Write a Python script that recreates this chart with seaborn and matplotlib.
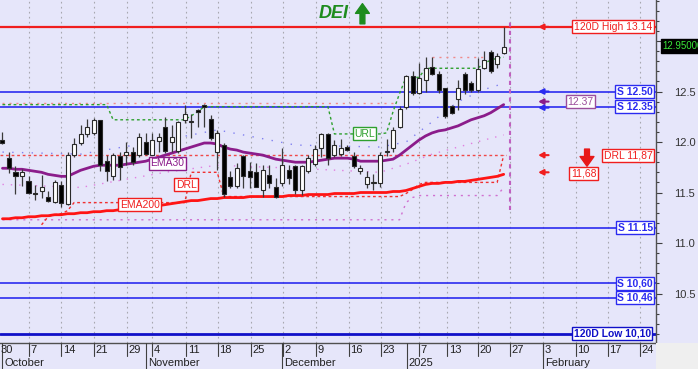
import matplotlib
matplotlib.use("Agg")
import matplotlib.pyplot as plt
from matplotlib.ticker import MultipleLocator, FuncFormatter
from matplotlib.patches import Rectangle
import numpy as np
import pandas as pd
import seaborn as sns

# daily candles, oldest first
opens = [12.02, 11.84, 11.70, 11.66, 11.61, 11.50, 11.51, 11.46, 11.41, 11.57,
         11.39, 11.87, 11.99, 12.08, 12.09, 12.22, 11.81, 11.66, 11.86, 11.87,
         11.90, 11.87, 12.00, 11.87, 12.01, 12.15, 12.00, 11.91, 12.22, 12.20,
         12.32, 12.37, 12.23, 11.90, 11.97, 11.65, 11.56, 11.86, 11.71, 11.70,
         11.52, 11.67, 11.55, 11.59, 11.72, 11.76, 11.52, 11.71, 11.78, 11.94,
         12.08, 11.87, 11.88, 11.95, 11.86, 11.71, 11.58, 11.59, 11.59, 11.90,
         11.94, 12.15, 12.35, 12.65, 12.49, 12.61, 12.74, 12.67, 12.53, 12.36,
         12.43, 12.67, 12.58, 12.51, 12.73, 12.89, 12.77, 12.88]
highs = [12.10, 11.90, 11.76, 11.73, 11.66, 11.57, 11.67, 11.51, 11.62, 11.61,
         11.90, 12.04, 12.17, 12.23, 12.24, 12.22, 11.87, 11.89, 11.90, 12.00,
         11.95, 12.09, 12.09, 12.09, 12.09, 12.25, 12.17, 12.21, 12.37, 12.28,
         12.33, 12.38, 12.27, 12.12, 11.99, 11.71, 11.79, 11.87, 11.80, 11.79,
         11.77, 11.77, 11.64, 11.94, 11.77, 11.77, 11.77, 11.87, 11.97, 12.09,
         12.09, 12.02, 12.03, 11.97, 11.90, 11.77, 11.71, 11.68, 11.90, 12.03,
         12.15, 12.36, 12.66, 12.70, 12.78, 12.84, 12.84, 12.70, 12.53, 12.37,
         12.61, 12.69, 12.60, 12.83, 12.90, 12.91, 12.88, 13.14]
lows = [11.98, 11.69, 11.49, 11.56, 11.49, 11.43, 11.45, 11.41, 11.40, 11.36,
        11.38, 11.85, 11.97, 12.05, 12.07, 11.71, 11.61, 11.62, 11.62, 11.77,
        11.77, 11.85, 11.87, 11.87, 11.90, 11.89, 11.90, 11.89, 12.19, 12.04,
        12.15, 12.15, 12.02, 11.72, 11.46, 11.54, 11.54, 11.54, 11.54, 11.55,
        11.46, 11.54, 11.45, 11.56, 11.58, 11.49, 11.48, 11.69, 11.76, 11.85,
        11.77, 11.85, 11.86, 11.91, 11.74, 11.68, 11.54, 11.52, 11.55, 11.86,
        11.90, 12.14, 12.33, 12.47, 12.48, 12.50, 12.66, 12.49, 12.24, 12.28,
        12.32, 12.48, 12.50, 12.50, 12.72, 12.68, 12.73, 12.87]
closes = [11.99, 11.74, 11.66, 11.70, 11.50, 11.49, 11.55, 11.42, 11.60, 11.40,
          11.87, 11.98, 12.08, 12.15, 12.22, 11.77, 11.71, 11.87, 11.75, 11.90,
          11.80, 12.05, 11.88, 12.02, 12.05, 11.91, 12.05, 12.20, 12.28, 12.21,
          12.30, 12.35, 12.04, 12.09, 11.49, 11.56, 11.74, 11.66, 11.65, 11.55,
          11.72, 11.59, 11.46, 11.77, 11.64, 11.52, 11.76, 11.84, 11.93, 12.08,
          11.84, 11.97, 11.94, 11.92, 11.76, 11.74, 11.65, 11.60, 11.87, 11.91,
          12.12, 12.33, 12.65, 12.49, 12.63, 12.73, 12.67, 12.51, 12.26, 12.29,
          12.53, 12.51, 12.51, 12.72, 12.81, 12.70, 12.85, 12.94]

ema30 = [11.74, 11.74, 11.73, 11.73, 11.72, 11.71, 11.70, 11.68, 11.67, 11.66,
         11.66, 11.69, 11.72, 11.74, 11.76, 11.77, 11.77, 11.77, 11.77, 11.78,
         11.79, 11.80, 11.81, 11.83, 11.85, 11.87, 11.89, 11.91, 11.93, 11.95,
         11.97, 11.99, 11.99, 11.98, 11.95, 11.93, 11.92, 11.90, 11.89, 11.88,
         11.87, 11.85, 11.83, 11.82, 11.81, 11.80, 11.80, 11.80, 11.81, 11.82,
         11.83, 11.84, 11.84, 11.84, 11.83, 11.81, 11.81, 11.81, 11.81, 11.82,
         11.83, 11.87, 11.92, 11.97, 12.02, 12.06, 12.09, 12.11, 12.12, 12.14,
         12.16, 12.19, 12.22, 12.24, 12.26, 12.29, 12.33, 12.37]
ema200 = [11.24, 11.24, 11.25, 11.25, 11.26, 11.26, 11.27, 11.27, 11.28, 11.28,
          11.29, 11.29, 11.30, 11.30, 11.31, 11.31, 11.32, 11.32, 11.33, 11.33,
          11.33, 11.34, 11.35, 11.36, 11.37, 11.38, 11.39, 11.40, 11.41, 11.42,
          11.42, 11.43, 11.44, 11.44, 11.45, 11.45, 11.45, 11.45, 11.46, 11.46,
          11.46, 11.46, 11.46, 11.46, 11.47, 11.47, 11.47, 11.48, 11.48, 11.48,
          11.48, 11.49, 11.49, 11.49, 11.49, 11.50, 11.50, 11.50, 11.50, 11.50,
          11.51, 11.51, 11.52, 11.54, 11.56, 11.58, 11.59, 11.59, 11.60, 11.60,
          11.61, 11.61, 11.62, 11.63, 11.64, 11.65, 11.66, 11.68]
url_line = [12.37] * 17 + [12.22] * 12 + [12.26, 12.30] + [12.35] * 20 + \
           [12.08] * 8 + [12.09, 12.30, 12.48, 12.64, 12.64, 12.64] + [12.73] * 9 + \
           [12.78, 12.81, 12.83, 12.84]
drl_line = [np.nan] * 6 + [11.18, 11.26, 11.28, 11.29, 11.32] + [11.40] * 18 + \
           [11.70] * 5 + [11.46] * 28 + [11.49, 11.53, 11.58] + [11.60] * 12 + [11.87]
res_dots = [12.39] * 61
res_dots_hi = [12.84] * 9          # days 66..74
sup_dots = [11.23] * 62 + [11.40, 11.45] + [11.47] * 13 + [11.55]

band_days = [0, 12, 25, 33, 45, 58, 62, 66, 70, 74, 77]
band_upper = [11.90, 11.88, 12.02, 12.12, 11.97, 11.95, 12.00, 12.20, 12.40, 12.52, 12.58]
band_lower = [11.58, 11.55, 11.70, 11.77, 11.74, 11.70, 11.78, 11.88, 11.95, 12.02, 12.07]

day_ticks = [-0.6, 4.1, 9.0, 14.1, 19.1, 23.0, 28.2, 33.1, 38.2, 43.1, 48.2,
             53.2, 58.1, 64.0, 68.3, 73.0, 78.0, 83.0, 88.1, 93.0, 97.9]
day_labels = ["30", "7", "14", "21", "29", "4", "11", "18", "25", "2", "9",
              "16", "23", "7", "13", "20", "27", "3", "10", "17", "24"]
month_pos = [0.0, 22.0, 43.0, 62.1, 83.0]
month_labels = ["October", "November", "December", "2025", "February"]

support_levels = [12.50, 12.35, 11.15, 10.60, 10.46]
support_labels = ["S 12.50", "S 12.35", "S 11.15", "S 10,60", "S 10,46"]
high_120 = 13.14
low_120 = 10.10
drl_level = 11.87
last_close = 12.95

df = pd.DataFrame({"day": np.arange(len(closes)), "open": opens, "high": highs,
                   "low": lows, "close": closes, "ema30": ema30, "ema200": ema200,
                   "url": url_line, "drl": drl_line})

sns.set_style("white")
plt.rcParams["font.family"] = ["Liberation Sans", "DejaVu Sans"]

BG = "#E6E6FA"
BLUE = "#2B2BF0"
RED = "#F01E1E"
PURPLE = "#8B1C8B"
GREEN = "#1E8C1E"

fig = plt.figure(figsize=(6.98, 3.69), dpi=100, facecolor=BG)
ax = fig.add_axes([0, 26 / 369, 656 / 698, 343 / 369], facecolor=BG)
strip = fig.add_axes([0, 0, 656 / 698, 26 / 369], facecolor=BG)
fig.patches.append(Rectangle((656 / 698, 0), 42 / 698, 26 / 369, transform=fig.transFigure,
                             fc="#EFEFEF", ec="none"))

xlim = (-0.38, 100.4)
ax.set_xlim(*xlim)
ax.set_ylim(10.01, 13.406)

# grid
for t in day_ticks:
    ax.axvline(t, color="#A8A8B0", lw=0.8, ls=(0, (1.5, 3)), zorder=0.5)

# horizontal levels
ax.axhline(high_120, color=RED, lw=1.6, zorder=1)
for lv in support_levels:
    ax.axhline(lv, color=BLUE, lw=1.2, zorder=1)
ax.axhline(low_120, color="#1010C8", lw=2.0, zorder=1)
ax.hlines(drl_level, xlim[0], 77.3, color="#F04848", lw=1.0, ls=(0, (2, 2)), zorder=1)

# dotted reference lines
ax.plot(np.arange(61), res_dots, color="#F08A8A", lw=1.0, ls=(0, (1.5, 3.5)), zorder=1)
ax.plot(np.arange(66, 75), res_dots_hi, color="#F08A8A", lw=1.0, ls=(0, (1.5, 3.5)), zorder=1)
ax.plot(np.arange(78), sup_dots, color="#D070D0", lw=1.0, ls=(0, (1.5, 3.5)), zorder=1)
ax.plot(band_days, band_upper, color="#8080F0", lw=1.0, ls=(0, (1, 6)), zorder=1)
ax.plot(band_days, band_lower, color="#E080E0", lw=1.0, ls=(0, (1, 5)), zorder=1)

# URL / DRL step lines
ax.plot(df["day"], df["url"], color="#2EA02E", lw=1.0, ls=(0, (2, 2)), zorder=2)
ax.plot(df["day"], df["drl"], color="#F03030", lw=1.0, ls=(0, (2, 2)), zorder=2)

# moving averages
sns.lineplot(data=df, x="day", y="ema200", ax=ax, color="#FF1414", lw=2.0, zorder=2.5)
sns.lineplot(data=df, x="day", y="ema30", ax=ax, color=PURPLE, lw=2.0, zorder=2.5)

# candles
up = df["close"] >= df["open"]
ax.vlines(df["day"], df["low"], df["high"], color="#3A3A3A", lw=0.9, zorder=3)
body_lo = np.minimum(df["open"], df["close"])
body_h = np.maximum(np.abs(df["close"] - df["open"]), 0.008)
ax.bar(df["day"], body_h, bottom=body_lo, width=0.62,
       color=np.where(up, "white", "black"), edgecolor="#2A2A2A", lw=0.8, zorder=4)

# last bar marker
ax.vlines(78.0, 11.33, 13.22, color="#C060C0", lw=1.5, ls=(0, (2, 2)), zorder=2)

ax.set_xlabel("")
ax.set_ylabel("")
ax.set_xticks([])
ax.yaxis.tick_right()
ax.yaxis.set_major_locator(MultipleLocator(0.5))
ax.yaxis.set_minor_locator(MultipleLocator(0.1))
# 13.0 sits under the last-price tag
ax.yaxis.set_major_formatter(FuncFormatter(lambda v, p: "" if v > 12.9 else f"{v:.1f}"))
ax.tick_params(axis="y", which="major", length=4, width=0.8, color="#404040",
               labelsize=8, labelcolor="#333333", pad=9, right=True)
ax.tick_params(axis="y", which="minor", length=2, width=0.8, color="#404040", right=True)
for s in ["top", "left"]:
    ax.spines[s].set_visible(False)
for s in ["right", "bottom"]:
    ax.spines[s].set_color("#505050")
    ax.spines[s].set_linewidth(1.0)


def box(x, y, s, color, size=7.5, weight="normal", ha="center"):
    ax.text(x, y, s, color=color, fontsize=size, fontweight=weight, ha=ha, va="center",
            zorder=8, bbox=dict(boxstyle="square,pad=0.15", fc="white", ec=color, lw=1.0))


def small_arrow(y, color):
    ax.annotate("", xy=(82.3, y), xytext=(83.9, y), zorder=7,
                arrowprops=dict(arrowstyle="-|>,head_length=0.3,head_width=0.16",
                                color=color, lw=1.5, shrinkA=0, shrinkB=0))


# inline labels
box(25.3, 11.79, "EMA30", PURPLE)
box(28.2, 11.575, "DRL", RED)
box(21.1, 11.38, "EMA200", RED)
box(55.6, 12.08, "URL", "#2EA02E")

# right-hand labels
box(99.8, high_120, "120D High 13.14", RED, ha="right")
for lv, lab in zip(support_levels, support_labels):
    box(99.9, lv, lab, BLUE, size=7.5, weight="bold", ha="right")
box(99.6, low_120, "120D Low 10,10", "#1010C8", size=7.5, weight="bold", ha="right")
box(88.8, 12.40, "12.37", "#9B4D9B")
box(99.9, drl_level, "DRL 11,87", RED, ha="right")
box(89.3, 11.69, "11,68", RED)

small_arrow(high_120, RED)
small_arrow(12.50, BLUE)
small_arrow(12.40, PURPLE)
small_arrow(12.34, BLUE)
small_arrow(drl_level, RED)
small_arrow(11.70, RED)

ax.annotate("", xy=(89.8, 11.76), xytext=(89.8, 11.93), zorder=7,
            arrowprops=dict(arrowstyle="simple,head_length=0.7,head_width=1.0,tail_width=0.35",
                            color="#E81818", shrinkA=0, shrinkB=0))
ax.annotate("", xy=(55.3, 13.37), xytext=(55.3, 13.17), zorder=7,
            arrowprops=dict(arrowstyle="simple,head_length=0.7,head_width=1.0,tail_width=0.35",
                            color=GREEN, shrinkA=0, shrinkB=0))
ax.text(50.9, 13.27, "DEI", color=GREEN, fontsize=13, fontweight="bold", fontstyle="italic",
        ha="center", va="center", zorder=8)

# last price tag on the axis
ax.text(101.4, last_close, "12.95000", color="#39E639", fontsize=7, ha="left", va="center",
        zorder=10, clip_on=False,
        bbox=dict(boxstyle="square,pad=0.2", fc="black", ec="black"))

# date strip
strip.set_xlim(*xlim)
strip.set_ylim(0, 1)
strip.axis("off")
for t, lab in zip(day_ticks, day_labels):
    strip.plot([t, t], [0.5, 1.0], color="#404040", lw=0.8, clip_on=True)
    strip.text(t + 0.25, 0.73, lab, fontsize=8, color="#202020", ha="left", va="center",
               clip_on=True)
for m, lab in zip(month_pos, month_labels):
    strip.plot([m, m], [0.0, 1.0], color="#404040", lw=0.8)
    strip.text(m + 0.3, 0.24, lab, fontsize=8, color="#202020", ha="left", va="center",
               clip_on=True)

fig.savefig("out.png", dpi=100, facecolor=BG)
